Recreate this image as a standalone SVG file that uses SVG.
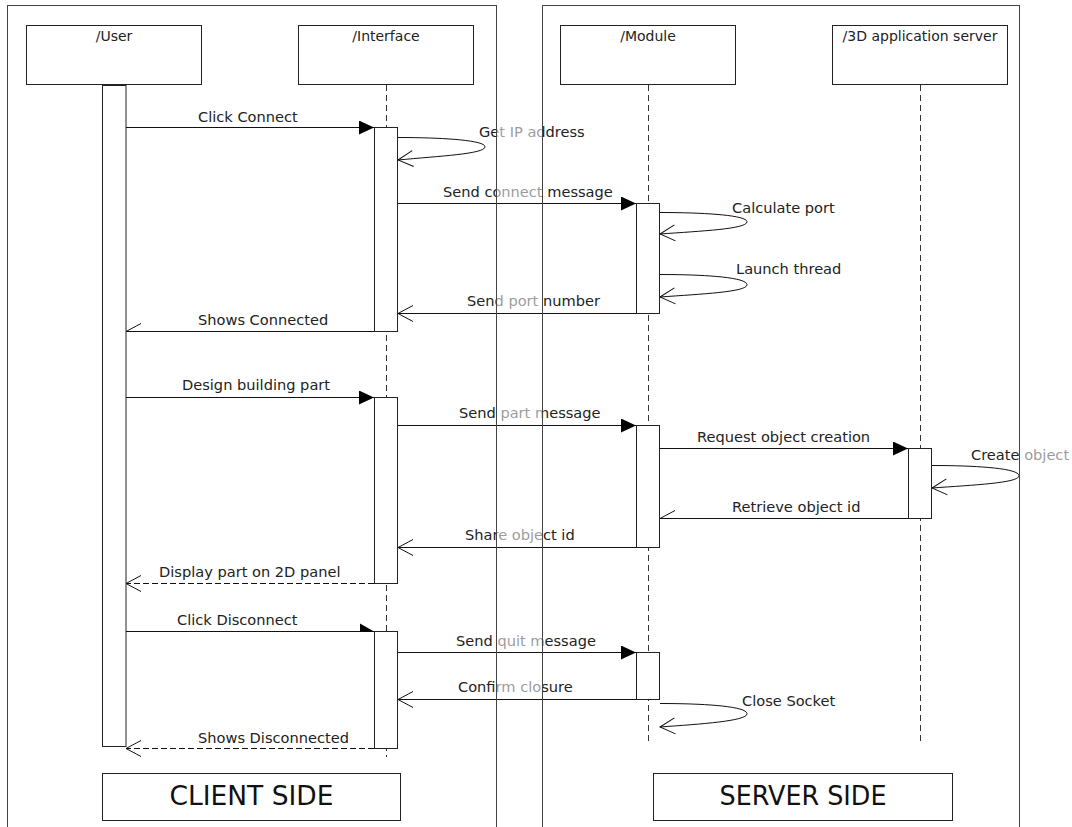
<svg xmlns="http://www.w3.org/2000/svg" width="1072" height="827" viewBox="0 0 1072 827">
  <style>
    .frame { fill: none; stroke: #444; stroke-width: 1; }
    .head { fill: #fff; stroke: #222; stroke-width: 1; }
    .act { fill: #fff; stroke: #222; stroke-width: 1; }
    .life { stroke: #333; stroke-width: 1; stroke-dasharray: 6 4; fill: none; }
    .msg { stroke: #111; stroke-width: 1; fill: none; }
    .ret { stroke: #111; stroke-width: 1; fill: none; stroke-dasharray: 6 3; }
    .loop { stroke: #111; stroke-width: 1; fill: none; }
    .barb { stroke: #111; stroke-width: 1; fill: none; }
    text { font-family: "DejaVu Sans", "Liberation Sans", sans-serif; fill: #222; }
    .htxt { font-size: 14px; text-anchor: middle; }
    .lbl { font-size: 14.6px; }
    .side { font-size: 27px; text-anchor: middle; fill: #111; }
    .haze { fill: #fff; fill-opacity: 0.55; }
  </style>
  <defs>
    <marker id="solid" viewBox="0 0 15 14" refX="15" refY="7" markerWidth="15" markerHeight="14" markerUnits="userSpaceOnUse" orient="auto">
      <path d="M0,0 L15,7 L0,14 Z" fill="#000"/>
    </marker>
    <marker id="open" viewBox="-1 -1 17 18" refX="15" refY="8" markerWidth="17" markerHeight="18" markerUnits="userSpaceOnUse" orient="auto">
      <path d="M0,0 L15,8 L0,16" fill="none" stroke="#111" stroke-width="1"/>
    </marker>
  </defs>

  <rect width="1072" height="827" fill="#fff"/>

  <!-- lifelines -->
  <g id="lifelines">
    <line class="life" x1="386.5" y1="85" x2="386.5" y2="757"/>
    <line class="life" x1="648.5" y1="85" x2="648.5" y2="744"/>
    <line class="life" x1="920.5" y1="85" x2="920.5" y2="744"/>
  </g>

  <!-- participants -->
  <g id="user">
    <rect class="head" x="26.5" y="25.5" width="175" height="59"/>
    <text class="htxt" x="114" y="41">/User</text>
    <rect class="act" x="102.5" y="85.5" width="23.5" height="661"/>
  </g>
  <g id="interface">
    <rect class="head" x="298.5" y="25.5" width="175" height="59"/>
    <text class="htxt" x="386" y="41">/Interface</text>
    <rect class="act" x="374.5" y="127.5" width="23" height="204"/>
    <rect class="act" x="374.5" y="397.5" width="23" height="186"/>
    <rect class="act" x="374.5" y="631.5" width="23" height="117"/>
  </g>
  <g id="module">
    <rect class="head" x="560.5" y="25.5" width="175" height="59"/>
    <text class="htxt" x="648" y="41">/Module</text>
    <rect class="act" x="636.5" y="203.5" width="23" height="110"/>
    <rect class="act" x="636.5" y="425.5" width="23" height="122"/>
    <rect class="act" x="636.5" y="652.5" width="23" height="47"/>
  </g>
  <g id="app-server">
    <rect class="head" x="832.5" y="25.5" width="175" height="59"/>
    <text class="htxt" x="920" y="41">/3D application server</text>
    <rect class="act" x="908.5" y="448.5" width="23" height="70"/>
  </g>

  <!-- side captions -->
  <g id="client-side">
    <rect class="head" x="102.5" y="773.5" width="298" height="47"/>
    <text class="side" x="251.5" y="805" textLength="164" lengthAdjust="spacingAndGlyphs">CLIENT SIDE</text>
  </g>
  <g id="server-side">
    <rect class="head" x="653.5" y="773.5" width="299" height="47"/>
    <text class="side" x="803" y="805" textLength="167" lengthAdjust="spacingAndGlyphs">SERVER SIDE</text>
  </g>

  <!-- message labels -->
  <g id="labels" class="lbl">
    <text class="lbl" x="198" y="122">Click Connect</text>
    <text class="lbl" x="479" y="137">Get IP address</text>
    <text class="lbl" x="443" y="197">Send connect message</text>
    <text class="lbl" x="732" y="213">Calculate port</text>
    <text class="lbl" x="736" y="274">Launch thread</text>
    <text class="lbl" x="467" y="306">Send port number</text>
    <text class="lbl" x="198" y="325">Shows Connected</text>
    <text class="lbl" x="182" y="390">Design building part</text>
    <text class="lbl" x="459" y="418">Send part message</text>
    <text class="lbl" x="697" y="442">Request object creation</text>
    <text class="lbl" x="971" y="460">Create object</text>
    <text class="lbl" x="732" y="512">Retrieve object id</text>
    <text class="lbl" x="465" y="540">Share object id</text>
    <text class="lbl" x="159" y="577">Display part on 2D panel</text>
    <text class="lbl" x="177" y="625">Click Disconnect</text>
    <text class="lbl" x="456" y="646">Send quit message</text>
    <text class="lbl" x="458" y="692">Confirm closure</text>
    <text class="lbl" x="742" y="706">Close Socket</text>
    <text class="lbl" x="198" y="743">Shows Disconnected</text>
  </g>

  <!-- text outside the two frames is washed out -->
  <g id="outside-haze">
    <rect class="haze" x="497" y="0" width="45" height="827"/>
    <rect class="haze" x="1020" y="0" width="52" height="827"/>
  </g>

  <!-- messages -->
  <g id="connectors">
    <path class="msg" d="M126 127.5 H374" marker-end="url(#solid)"/>
    <path class="loop" d="M398 137.5 C440 137.5 486 140 485 147 C484 154 440 156 398 160" marker-end="url(#open)"/>
    <path class="msg" d="M398 203.5 H636" marker-end="url(#solid)"/>
    <path class="loop" d="M660 212.5 C702 212.5 748 215 747 222 C746 229 702 231 660 234" marker-end="url(#open)"/>
    <path class="loop" d="M660 274.5 C702 274.5 748 277 747 285 C746 292 702 294 660 297" marker-end="url(#open)"/>
    <path class="msg" d="M636 313.5 H398" marker-end="url(#open)"/>
    <path class="msg" d="M374 331.5 H126"/>
    <path class="barb" d="M126 331.5 L141 323.5"/>
    <path class="msg" d="M126 397.5 H374" marker-end="url(#solid)"/>
    <path class="msg" d="M398 425.5 H636" marker-end="url(#solid)"/>
    <path class="msg" d="M660 448.5 H908" marker-end="url(#solid)"/>
    <path class="loop" d="M932 465.5 C974 465.5 1020 468 1019 476 C1018 483 974 485 932 488" marker-end="url(#open)"/>
    <path class="msg" d="M908 518.5 H660"/>
    <path class="barb" d="M660 518.5 L675 510.5"/>
    <path class="msg" d="M636 547.5 H398" marker-end="url(#open)"/>
    <path class="ret" d="M374 583.5 H126" marker-end="url(#open)"/>
    <path class="msg" d="M126 631.5 H374"/>
    <path d="M360 623.5 L374 631.5 L360 631.5 Z" fill="#000"/>
    <path class="msg" d="M398 652.5 H636" marker-end="url(#solid)"/>
    <path class="msg" d="M636 699.5 H398" marker-end="url(#open)"/>
    <path class="loop" d="M660 703.5 C702 703.5 748 706 747 714 C746 721 702 724 660 727" marker-end="url(#open)"/>
    <path class="ret" d="M374 748.5 H126" marker-end="url(#open)"/>
  </g>

  <!-- client and server frames -->
  <g id="frames">
    <rect class="frame" x="7.5" y="5.5" width="489" height="900"/>
    <rect class="frame" x="542.5" y="5.5" width="477" height="900"/>
  </g>
</svg>
